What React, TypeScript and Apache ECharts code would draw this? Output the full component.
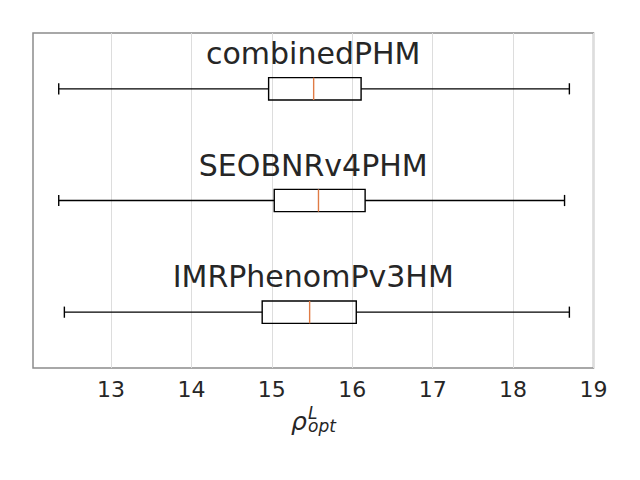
import React, { useEffect, useRef } from "react";
import * as echarts from "echarts";

const categories = ["combinedPHM", "SEOBNRv4PHM", "IMRPhenomPv3HM"];
const whiskerLow = [12.35, 12.35, 12.42];
const quartile1 = [14.96, 15.03, 14.88];
const medians = [15.52, 15.58, 15.47];
const quartile3 = [16.11, 16.16, 16.05];
const whiskerHigh = [18.70, 18.64, 18.70];
const tickLabels = [13, 14, 15, 16, 17, 18, 19];
const xMin = 12.03;
const xMax = 19.0;

const FONT = "DejaVu Sans";
const TEXT = "#262626";

export default function App() {
  const ref = useRef<HTMLDivElement>(null);
  useEffect(() => {
    if (!ref.current) return;
    const chart = echarts.init(ref.current, undefined, { renderer: "svg" });
    const data = categories.map((c, i) => [
      i,
      whiskerLow[i],
      quartile1[i],
      medians[i],
      quartile3[i],
      whiskerHigh[i],
    ]);
    const grid = { left: 33, right: 46.5, top: 33, bottom: 112 };
    chart.setOption({
      animation: false,
      backgroundColor: "#ffffff",
      grid: {
        ...grid,
        show: true,
        borderColor: "#8c8c8c",
        borderWidth: 1.5,
        backgroundColor: "transparent",
      },
      xAxis: {
        type: "value",
        min: xMin,
        max: xMax,
        axisLine: { show: false },
        axisTick: { show: false, customValues: tickLabels },
        axisLabel: {
          customValues: tickLabels,
          fontFamily: FONT,
          fontSize: 22,
          color: TEXT,
          margin: 10,
        },
        splitLine: { show: true, lineStyle: { color: "#dddddd", width: 1 } },
      },
      yAxis: {
        type: "category",
        data: categories,
        inverse: true,
        axisLine: { show: false },
        axisTick: { show: false },
        axisLabel: { show: false },
        splitLine: { show: false },
      },
      series: [
        {
          type: "custom",
          encode: { x: [1, 2, 3, 4, 5], y: 0 },
          data,
          renderItem: (params: any, api: any) => {
            const cat = api.value(0);
            const pMin = api.coord([api.value(1), cat]);
            const pQ1 = api.coord([api.value(2), cat]);
            const pMed = api.coord([api.value(3), cat]);
            const pQ3 = api.coord([api.value(4), cat]);
            const pMax = api.coord([api.value(5), cat]);
            const band = api.size([0, 1])[1];
            const y = pMin[1];
            const boxH = band * 0.2;
            const capH = band * 0.1;
            const cs = params.coordSys;
            const line = { stroke: "#000000", lineWidth: 1.4 };
            return {
              type: "group",
              children: [
                { type: "line", shape: { x1: pMin[0], y1: y, x2: pQ1[0], y2: y }, style: line },
                { type: "line", shape: { x1: pQ3[0], y1: y, x2: pMax[0], y2: y }, style: line },
                { type: "line", shape: { x1: pMin[0], y1: y - capH / 2, x2: pMin[0], y2: y + capH / 2 }, style: line },
                { type: "line", shape: { x1: pMax[0], y1: y - capH / 2, x2: pMax[0], y2: y + capH / 2 }, style: line },
                {
                  type: "rect",
                  shape: { x: pQ1[0], y: y - boxH / 2, width: pQ3[0] - pQ1[0], height: boxH },
                  style: { fill: "none", stroke: "#000000", lineWidth: 1.4 },
                },
                {
                  type: "line",
                  shape: { x1: pMed[0], y1: y - boxH / 2, x2: pMed[0], y2: y + boxH / 2 },
                  style: { stroke: "#e07b45", lineWidth: 1.4 },
                },
                {
                  type: "text",
                  style: {
                    text: categories[cat],
                    x: cs.x + cs.width / 2,
                    y: y - band * 0.315,
                    textAlign: "center",
                    textVerticalAlign: "middle",
                    fontFamily: FONT,
                    fontSize: 30,
                    fill: TEXT,
                  },
                },
              ],
            };
          },
        },
      ],
      graphic: [
        {
          type: "group",
          left: 291,
          top: 404,
          children: [
            {
              type: "text",
              x: 0,
              y: 10,
              style: { text: "ρ", fontFamily: FONT, fontStyle: "italic", fontSize: 25, lineHeight: 25, fill: TEXT },
            },
            {
              type: "text",
              x: 17,
              y: 7,
              style: {
                text: "{s|L}\n{s|opt}",
                rich: {
                  s: { fontFamily: FONT, fontStyle: "italic", fontSize: 17, lineHeight: 13, fill: TEXT },
                },
              },
            },
          ],
        },
      ],
    });
    return () => chart.dispose();
  }, []);
  return <div ref={ref} style={{ width: 640, height: 480, margin: -8 }} />;
}
